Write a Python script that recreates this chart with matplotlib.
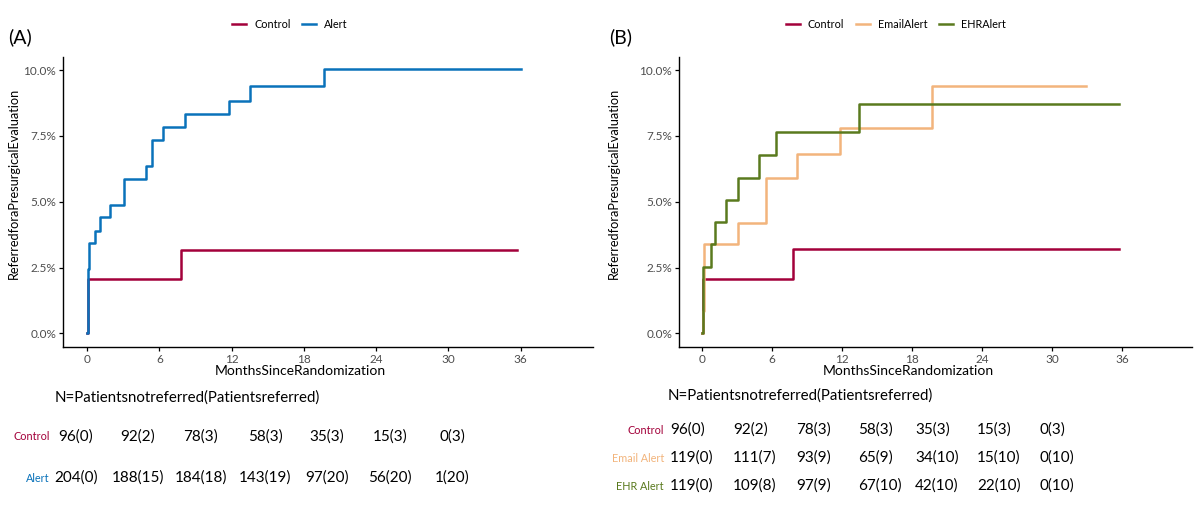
import matplotlib
matplotlib.use("Agg")
import matplotlib.pyplot as plt

plt.rcParams['font.family'] = ['Lato', 'DejaVu Sans']

# Kaplan-Meier style cumulative referral (%), step "post"
# Panel A
a_ctrl_t = [0, 0.05, 0.1, 7.76, 35.7]
a_ctrl_y = [0, 1.04, 2.08, 3.18, 3.18]
a_alert_t = [0, 0.05, 0.1, 0.15, 0.69, 1.05, 1.94, 3.05, 4.88, 5.40, 6.29, 8.14, 11.77, 13.49, 19.67, 36.0]
a_alert_y = [0, 0.98, 2.45, 3.43, 3.90, 4.41, 4.89, 5.88, 6.36, 7.35, 7.85, 8.34, 8.83, 9.39, 10.05, 10.05]

# Panel B
b_ctrl_t = [0, 0.05, 0.1, 7.76, 35.7]
b_ctrl_y = [0, 1.04, 2.08, 3.20, 3.20]
b_email_t = [0, 0.05, 0.15, 3.08, 5.45, 8.10, 11.78, 19.66, 32.9]
b_email_y = [0, 0.84, 3.38, 4.21, 5.91, 6.82, 7.82, 9.39, 9.39]
b_ehr_t = [0, 0.05, 0.71, 1.08, 2.0, 3.08, 4.88, 6.31, 13.47, 35.7]
b_ehr_y = [0, 2.52, 3.38, 4.22, 5.06, 5.92, 6.77, 7.64, 8.71, 8.71]

x_ticks = [0, 6, 12, 18, 24, 30, 36]
y_ticks = [0, 2.5, 5.0, 7.5, 10.0]
y_labels = ["0.0%", "2.5%", "5.0%", "7.5%", "10.0%"]

# risk tables
a_rows = ["Control", "Alert"]
a_table = [["96(0)", "92(2)", "78(3)", "58(3)", "35(3)", "15(3)", "0(3)"],
           ["204(0)", "188(15)", "184(18)", "143(19)", "97(20)", "56(20)", "1(20)"]]
b_rows = ["Control", "Email Alert", "EHR Alert"]
b_table = [["96(0)", "92(2)", "78(3)", "58(3)", "35(3)", "15(3)", "0(3)"],
           ["119(0)", "111(7)", "93(9)", "65(9)", "34(10)", "15(10)", "0(10)"],
           ["119(0)", "109(8)", "97(9)", "67(10)", "42(10)", "22(10)", "0(10)"]]

RED = "#A3003A"
BLUE = "#0A72BA"
ORANGE = "#F2B47C"
GREEN = "#5A7A1E"

W, H = 1200, 514
fig = plt.figure(figsize=(W / 100, H / 100), dpi=100)


def px(x, y):
    return x / W, 1 - y / H


def style_axes(ax):
    ax.set_xlim(-2, 42)
    ax.set_ylim(-0.52, 10.5)
    ax.set_xticks(x_ticks)
    ax.set_yticks(y_ticks)
    ax.set_yticklabels(y_labels)
    for s in ["top", "right"]:
        ax.spines[s].set_visible(False)
    for s in ["left", "bottom"]:
        ax.spines[s].set_linewidth(1.0)
    ax.tick_params(length=3, width=0.9, labelsize=8.5, labelcolor="#4D4D4D", pad=2)


axA = fig.add_axes([63 / W, 1 - 347 / H, (593 - 63) / W, (347 - 57) / H])
axA.step(a_ctrl_t, a_ctrl_y, where="post", color=RED, lw=1.8, label="Control")
axA.step(a_alert_t, a_alert_y, where="post", color=BLUE, lw=1.8, label="Alert")
style_axes(axA)

axB = fig.add_axes([679 / W, 1 - 347 / H, (1192 - 679) / W, (347 - 57) / H])
axB.step(b_ctrl_t, b_ctrl_y, where="post", color=RED, lw=1.8, label="Control")
axB.step(b_email_t, b_email_y, where="post", color=ORANGE, lw=1.8, label="EmailAlert")
axB.step(b_ehr_t, b_ehr_y, where="post", color=GREEN, lw=1.8, label="EHRAlert")
style_axes(axB)

for ax, cx in [(axA, 290), (axB, 896)]:
    ax.legend(loc="center", bbox_to_anchor=px(cx, 24), bbox_transform=fig.transFigure,
              ncol=3, frameon=False, fontsize=7.8, handlelength=1.3, columnspacing=1.1,
              handletextpad=0.7)

# panel letters and axis labels
fig.text(*px(8, 37), "(A)", fontsize=14, va="center", ha="left")
fig.text(*px(609, 37), "(B)", fontsize=14, va="center", ha="left")
fig.text(*px(14, 183), "ReferredforaPresurgicalEvaluation", rotation=90,
         fontsize=9.2, va="center", ha="center")
fig.text(*px(614, 183), "ReferredforaPresurgicalEvaluation", rotation=90,
         fontsize=9.2, va="center", ha="center")
fig.text(*px(300, 371), "MonthsSinceRandomization", fontsize=10, va="center", ha="center")
fig.text(*px(908, 371), "MonthsSinceRandomization", fontsize=10, va="center", ha="center")

# tables
fig.text(*px(55, 398), "N=Patientsnotreferred(Patientsreferred)", fontsize=10.8,
         va="center", ha="left")
a_cols = [76, 138, 201, 265, 327, 390, 452]
a_row_y = [437, 478]
for name, vals, yy, col in zip(a_rows, a_table, a_row_y, [RED, BLUE]):
    fig.text(*px(50, yy), name, fontsize=7.8, color=col, va="center", ha="right")
    for xx, v in zip(a_cols, vals):
        fig.text(*px(xx, yy), v, fontsize=11, va="center", ha="center")

fig.text(*px(668, 396), "N=Patientsnotreferred(Patientsreferred)", fontsize=10.8,
         va="center", ha="left")
b_cols = [670, 733, 796, 858, 915, 977, 1040]
b_row_y = [430, 458, 486]
for name, vals, yy, col in zip(b_rows, b_table, b_row_y, [RED, ORANGE, GREEN]):
    fig.text(*px(664, yy), name, fontsize=7.8, color=col, va="center", ha="right")
    for xx, v in zip(b_cols, vals):
        fig.text(*px(xx, yy), v, fontsize=11, va="center", ha="left")

fig.savefig("out.png", dpi=100)
